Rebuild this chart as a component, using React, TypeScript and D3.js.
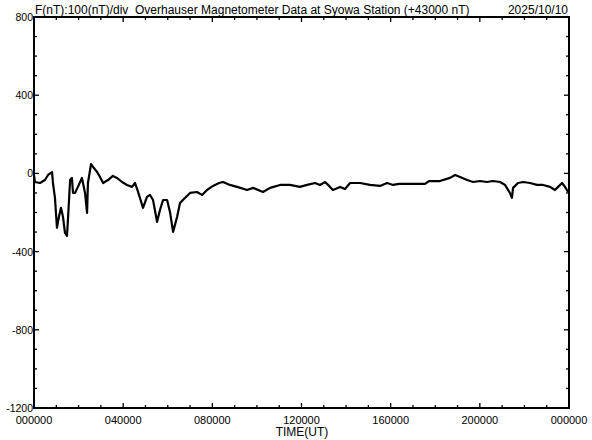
import React, { useRef, useEffect } from 'react';
import * as d3 from 'd3';

// time in hours (UT) and F minus 43000 nT
const hours = [
  0.0, 0.04, 0.27, 0.49, 0.63, 0.81, 0.85, 0.94, 1.03, 1.12, 1.21, 1.3, 1.39, 1.48, 1.53, 1.62,
  1.7, 1.75, 1.84, 1.97, 2.15, 2.29, 2.38, 2.42, 2.56, 2.65, 2.83, 2.96, 3.1, 3.32, 3.54, 3.72,
  3.95, 4.17, 4.4, 4.53, 4.67, 4.89, 5.07, 5.2, 5.34, 5.52, 5.65, 5.79, 5.97, 6.1, 6.24, 6.42,
  6.55, 6.68, 7.0, 7.31, 7.54, 7.76, 8.03, 8.3, 8.48, 8.79, 9.11, 9.56, 9.83, 10.27, 10.59, 11.04,
  11.48, 11.93, 12.25, 12.61, 12.83, 13.06, 13.28, 13.41, 13.73, 13.95, 14.18, 14.63, 15.07, 15.52,
  15.84, 16.11, 16.38, 16.73, 17.54, 17.72, 18.21, 18.66, 18.89, 19.11, 19.43, 19.7, 20.01, 20.32,
  20.59, 20.91, 21.13, 21.35, 21.44, 21.49, 21.71, 21.94, 22.25, 22.57, 22.84, 23.15, 23.37, 23.51,
  23.69, 23.82, 23.96,
];
const fValues = [
  -8, -44, -49, -34, -8, 7, -49, -125, -278, -222, -176, -222, -304, -319, -222, -34,
  -23, -100, -100, -69, -23, -100, -202, -49, 48, 33, 7, -18, -49, -34, -13, -23,
  -44, -59, -69, -49, -95, -176, -120, -110, -136, -248, -187, -136, -136, -197, -299, -222,
  -151, -136, -100, -95, -110, -85, -64, -49, -44, -59, -69, -85, -74, -95, -74, -59,
  -59, -69, -59, -49, -59, -44, -69, -85, -69, -80, -49, -49, -59, -64,
  -49, -59, -54, -54, -54, -39, -39, -23, -8, -18, -34, -44, -39, -44,
  -39, -44, -59, -100, -125, -74, -49, -44, -49, -59, -59, -69, -85, -69,
  -49, -69, -95,
];
const yTickLabels = [800, 400, 0, -400, -800, -1200];
const xTickHours = [0, 4, 8, 12, 16, 20, 24];

const title = 'F(nT):100(nT)/div  Overhauser Magnetometer Data at Syowa Station (+43000 nT)';
const dateLabel = '2025/10/10';
const xTitle = 'TIME(UT)';

export default function App() {
  const ref = useRef<SVGSVGElement>(null);

  useEffect(() => {
    const svg = d3.select(ref.current);
    svg.selectAll('*').remove();

    const width = 592;
    const height = 440;
    const left = 34, right = 569, top = 17, bottom = 408;
    const font = 'Arial, "Liberation Sans", sans-serif';

    const x = d3.scaleLinear().domain([0, 24]).range([left, right]);
    const y = d3.scaleLinear().domain([-1200, 800]).range([bottom, top]);

    svg.attr('width', width).attr('height', height);
    svg.append('rect').attr('width', width).attr('height', height).attr('fill', 'white');

    // ticks
    const ticks = svg.append('g').attr('stroke', 'black').attr('stroke-width', 1.3);
    d3.range(0, 25).forEach(h => {
      const major = h % 4 === 0;
      const len = major ? 5 : 3;
      ticks.append('line').attr('x1', x(h)).attr('x2', x(h)).attr('y1', bottom).attr('y2', bottom - len);
      ticks.append('line').attr('x1', x(h)).attr('x2', x(h)).attr('y1', top).attr('y2', top + len);
    });
    d3.range(-1200, 801, 100).forEach(v => {
      const major = v % 400 === 0;
      const len = major ? 5 : 3;
      ticks.append('line').attr('x1', left).attr('x2', left + len).attr('y1', y(v)).attr('y2', y(v));
      ticks.append('line').attr('x1', right).attr('x2', right - len).attr('y1', y(v)).attr('y2', y(v));
    });

    // data line
    const points = hours.map((h, i) => [h, fValues[i]] as [number, number]);
    svg.append('path')
      .datum(points)
      .attr('fill', 'none')
      .attr('stroke', 'black')
      .attr('stroke-width', 2.2)
      .attr('stroke-linejoin', 'round')
      .attr('d', d3.line<[number, number]>().x(d => x(d[0])).y(d => y(d[1])));

    // frame
    svg.append('rect')
      .attr('x', left).attr('y', top)
      .attr('width', right - left).attr('height', bottom - top)
      .attr('fill', 'none').attr('stroke', 'black').attr('stroke-width', 2);

    // y labels
    svg.append('g').selectAll('text')
      .data(yTickLabels)
      .join('text')
      .attr('x', left - 1)
      .attr('y', d => y(d) + 4)
      .attr('text-anchor', 'end')
      .attr('font-family', font)
      .attr('font-size', 10.5)
      .text(d => String(d));

    // x labels
    svg.append('g').selectAll('text')
      .data(xTickHours)
      .join('text')
      .attr('x', d => x(d))
      .attr('y', 424)
      .attr('text-anchor', 'middle')
      .attr('font-family', font)
      .attr('font-size', 11)
      .text(d => String(d % 24).padStart(2, '0') + '0000');

    svg.append('text')
      .attr('x', 302).attr('y', 436)
      .attr('text-anchor', 'middle')
      .attr('font-family', font).attr('font-size', 12)
      .text(xTitle);

    svg.append('text')
      .attr('x', 35).attr('y', 14)
      .attr('font-family', font).attr('font-size', 12)
      .style('white-space', 'pre')
      .text(title);

    svg.append('text')
      .attr('x', 568).attr('y', 14)
      .attr('text-anchor', 'end')
      .attr('font-family', font).attr('font-size', 12)
      .text(dateLabel);
  }, []);

  return <svg ref={ref} style={{ position: 'absolute', left: 0, top: 0 }} />;
}
